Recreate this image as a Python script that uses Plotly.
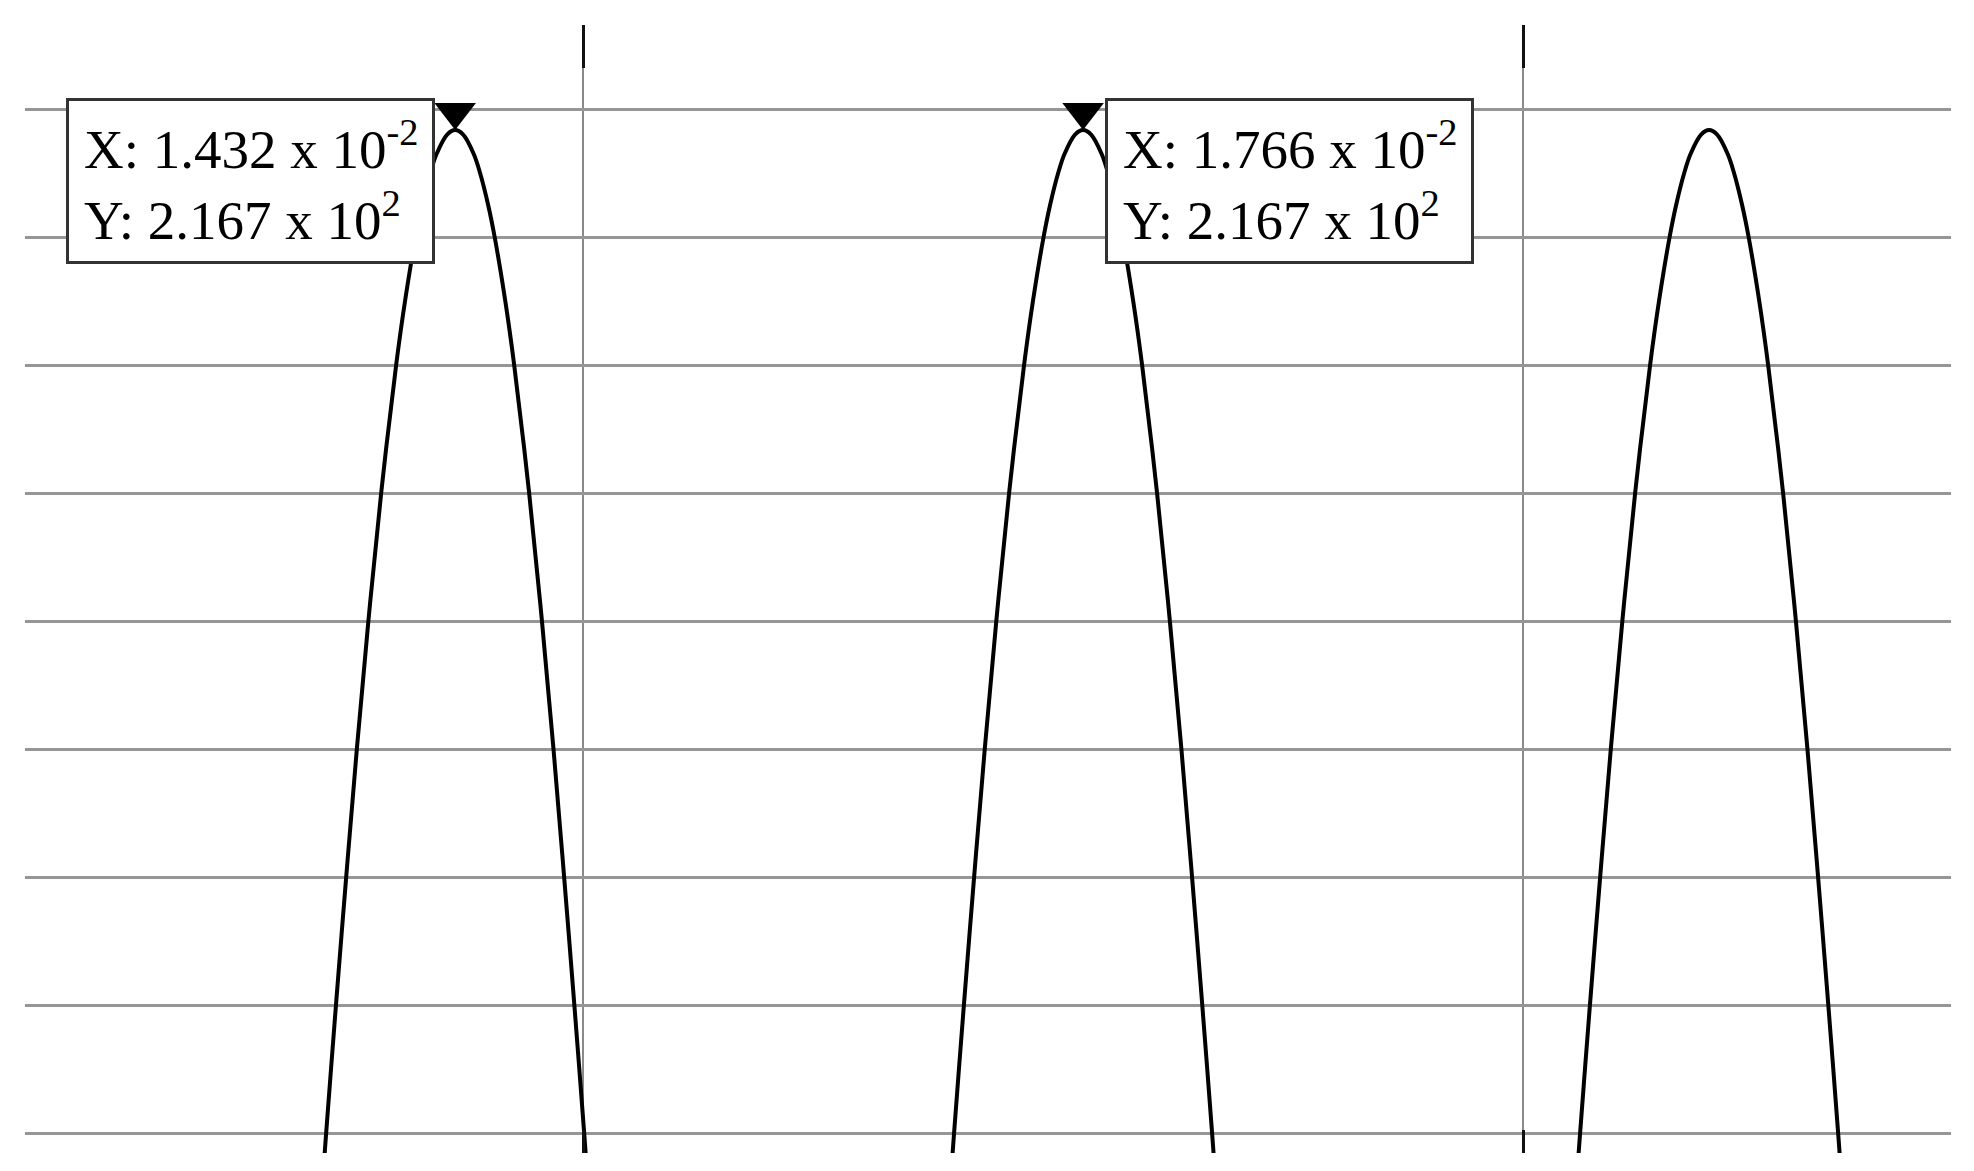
import math
import plotly.graph_objects as go

# ---- data ----
peak_y = [40, 60, 80, 100, 120, 140, 160, 180, 190, 200, 205, 210, 213, 216, 216.7,
          216, 213, 210, 205, 200, 190, 180, 160, 140, 120, 100, 80, 60, 40]
# peak 1
p1_x = [0.0135837, 0.0136338, 0.0136860, 0.0137404, 0.0137970, 0.0138584, 0.0139265, 0.0140061,
        0.0140534, 0.0141099, 0.0141445, 0.0141875, 0.0142217, 0.0142773, 0.01432,
        0.0143627, 0.0144183, 0.0144525, 0.0144955, 0.0145301, 0.0145866, 0.0146339,
        0.0147135, 0.0147816, 0.0148430, 0.0148996, 0.0149540, 0.0150062, 0.0150563]
# peak 2
p2_x = [0.0169237, 0.0169738, 0.0170260, 0.0170804, 0.0171370, 0.0171984, 0.0172665, 0.0173461,
        0.0173934, 0.0174499, 0.0174845, 0.0175275, 0.0175617, 0.0176173, 0.01766,
        0.0177027, 0.0177583, 0.0177925, 0.0178355, 0.0178701, 0.0179266, 0.0179739,
        0.0180535, 0.0181216, 0.0181830, 0.0182396, 0.0182940, 0.0183462, 0.0183963]
# peak 3
p3_x = [0.0202537, 0.0203038, 0.0203560, 0.0204104, 0.0204670, 0.0205284, 0.0205965, 0.0206761,
        0.0207234, 0.0207799, 0.0208145, 0.0208575, 0.0208917, 0.0209473, 0.02099,
        0.0210327, 0.0210883, 0.0211225, 0.0211655, 0.0212001, 0.0212566, 0.0213039,
        0.0213835, 0.0214516, 0.0215130, 0.0215696, 0.0216240, 0.0216762, 0.0217263]

# data tips
tip_x = [0.01432, 0.01766]
tip_y = [216.7, 216.7]
tip_side = ["left", "right"]

# axes
x_range = [0.0120319, 0.0222766]
y_range = [56.875, 233.125]
x_dtick = 0.005
y_dtick = 20

# ---- figure (page body has an 8px margin) ----
W, H = 1958, 1155
M = dict(l=17, r=15, t=17, b=10)
plot_h = H - M["t"] - M["b"]

curve_x = p1_x + [None] + p2_x + [None] + p3_x
curve_y = peak_y + [None] + peak_y + [None] + peak_y

fig = go.Figure()
fig.add_trace(go.Scatter(x=curve_x, y=curve_y, mode="lines",
                         line=dict(color="black", width=4, shape="spline", smoothing=1.0),
                         connectgaps=False, hoverinfo="skip", showlegend=False))

# triangle markers with their tip at the data point
msize = 36
r = msize / 2
px_per_unit = plot_h / (y_range[1] - y_range[0])
fig.add_trace(go.Scatter(x=tip_x, y=[v + r / px_per_unit for v in tip_y], mode="markers",
                         marker=dict(symbol="triangle-down", size=msize, color="black",
                                     line=dict(width=0)),
                         xaxis="x2", hoverinfo="skip", showlegend=False))


def sci(v):
    e = int(math.floor(math.log10(abs(v))))
    m = v / 10 ** e
    return f"{m:.3f} x 10<sup>{e}</sup>"


for xv, yv, side in zip(tip_x, tip_y, tip_side):
    fig.add_annotation(
        x=xv, y=yv, xref="x", yref="y",
        text=f"X: {sci(xv)}<br>Y: {sci(yv)}",
        showarrow=False, align="left",
        xanchor="right" if side == "left" else "left", yanchor="top",
        xshift=-20 if side == "left" else 22, yshift=32,
        width=333, height=130, borderpad=15, borderwidth=3,
        bordercolor="#333333", bgcolor="white",
        font=dict(family="Liberation Serif", size=55, color="black"),
    )

fig.update_layout(
    width=W, height=H, margin=M,
    paper_bgcolor="white", plot_bgcolor="white",
    showlegend=False,
    xaxis=dict(range=x_range, tick0=0, dtick=x_dtick, showgrid=True, gridcolor="#8a8a8a",
               gridwidth=2, zeroline=False, showline=False, showticklabels=False,
               ticks="inside", ticklen=23, tickwidth=3, tickcolor="#111111"),
    xaxis2=dict(range=x_range, tick0=0, dtick=x_dtick, overlaying="x", side="top",
                anchor="y", showgrid=False, zeroline=False, showline=False,
                showticklabels=False, ticks="inside", ticklen=43, tickwidth=3,
                tickcolor="#111111"),
    yaxis=dict(range=y_range, tick0=0, dtick=y_dtick, showgrid=True, gridcolor="#969696",
               gridwidth=3, zeroline=False, showline=False, showticklabels=False, ticks=""),
)

fig.write_html("out.html")
